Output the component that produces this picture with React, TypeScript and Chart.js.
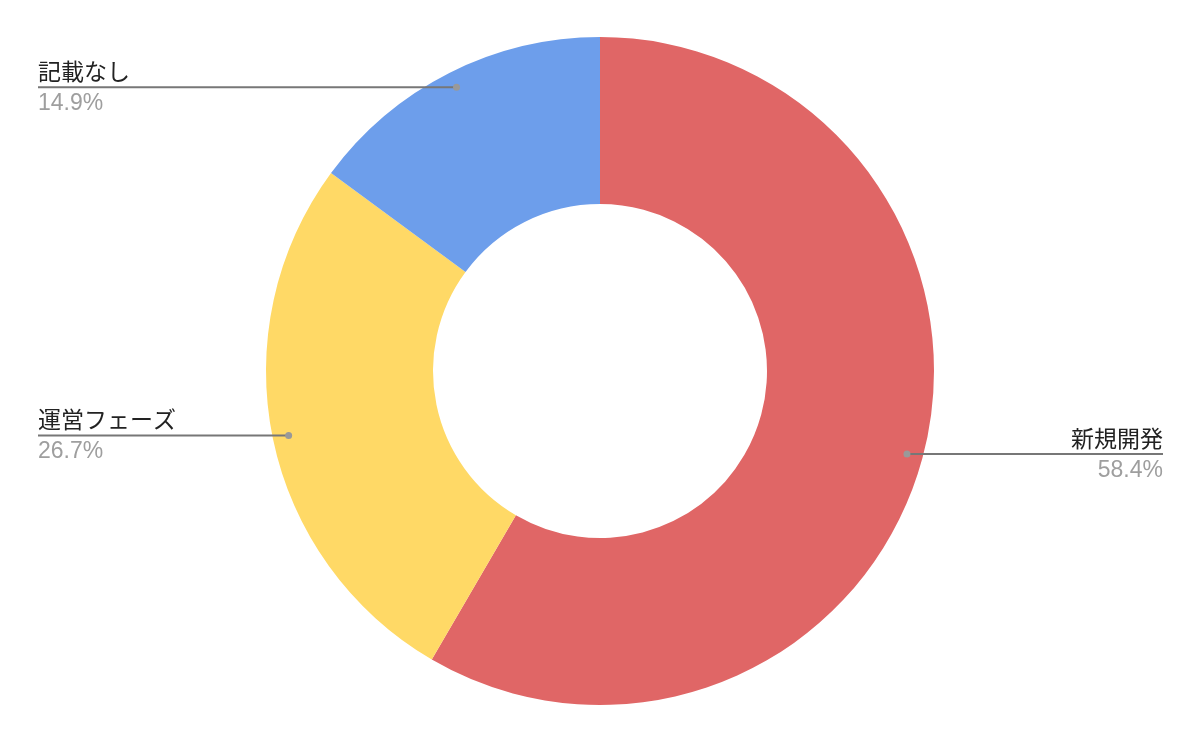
import React, { useEffect, useRef } from "react";
import { Chart, registerables } from "chart.js";

Chart.register(...registerables);

const categories = ["新規開発", "運営フェーズ", "記載なし"];
const values = [58.4, 26.7, 14.9];
const percentLabels = ["58.4%", "26.7%", "14.9%"];
const colors = ["#E06666", "#FFD966", "#6D9EEB"];

const FONT = "Arial, 'Liberation Sans', 'Noto Sans CJK JP', sans-serif";

const leaderPlugin = {
  id: "leaderLabels",
  afterDatasetsDraw(chart: any) {
    const ctx = chart.ctx;
    const meta = chart.getDatasetMeta(0);
    const W = chart.width;
    meta.data.forEach((arc: any, i: number) => {
      const p = arc.getProps(["x", "y", "startAngle", "endAngle", "outerRadius"], true);
      const mid = (p.startAngle + p.endAngle) / 2;
      const r = p.outerRadius * 0.952;
      const dx = p.x + Math.cos(mid) * r;
      const dy = p.y + Math.sin(mid) * r;
      const right = Math.cos(mid) > 0;
      const edge = right ? W - 37 : 38;
      ctx.save();
      ctx.strokeStyle = "#777777";
      ctx.lineWidth = 2;
      ctx.beginPath();
      ctx.moveTo(dx, dy);
      ctx.lineTo(edge, dy);
      ctx.stroke();
      ctx.fillStyle = "#999999";
      ctx.beginPath();
      ctx.arc(dx, dy, 3.5, 0, Math.PI * 2);
      ctx.fill();
      ctx.textAlign = right ? "right" : "left";
      ctx.textBaseline = "alphabetic";
      ctx.font = `23px ${FONT}`;
      ctx.fillStyle = "#222222";
      ctx.fillText(categories[i], edge, dy - 7);
      ctx.font = `23px ${FONT}`;
      ctx.fillStyle = "#9E9E9E";
      ctx.fillText(percentLabels[i], edge, dy + 23);
      ctx.restore();
    });
  },
};

export default function App() {
  const ref = useRef<HTMLCanvasElement>(null);
  useEffect(() => {
    document.body.style.margin = "0";
    const chart = new Chart(ref.current!, {
      type: "doughnut",
      data: {
        labels: categories,
        datasets: [
          {
            data: values,
            backgroundColor: colors,
            borderWidth: 0,
          },
        ],
      },
      options: {
        responsive: false,
        animation: false,
        cutout: "50%",
        layout: { padding: { top: 37, bottom: 37, left: 0, right: 0 } },
        plugins: { legend: { display: false }, tooltip: { enabled: false } },
      },
      plugins: [leaderPlugin],
    });
    return () => chart.destroy();
  }, []);
  return (
    <div style={{ width: 1200, height: 742, background: "#fff" }}>
      <canvas ref={ref} width={1200} height={742} style={{ display: "block" }} />
    </div>
  );
}
